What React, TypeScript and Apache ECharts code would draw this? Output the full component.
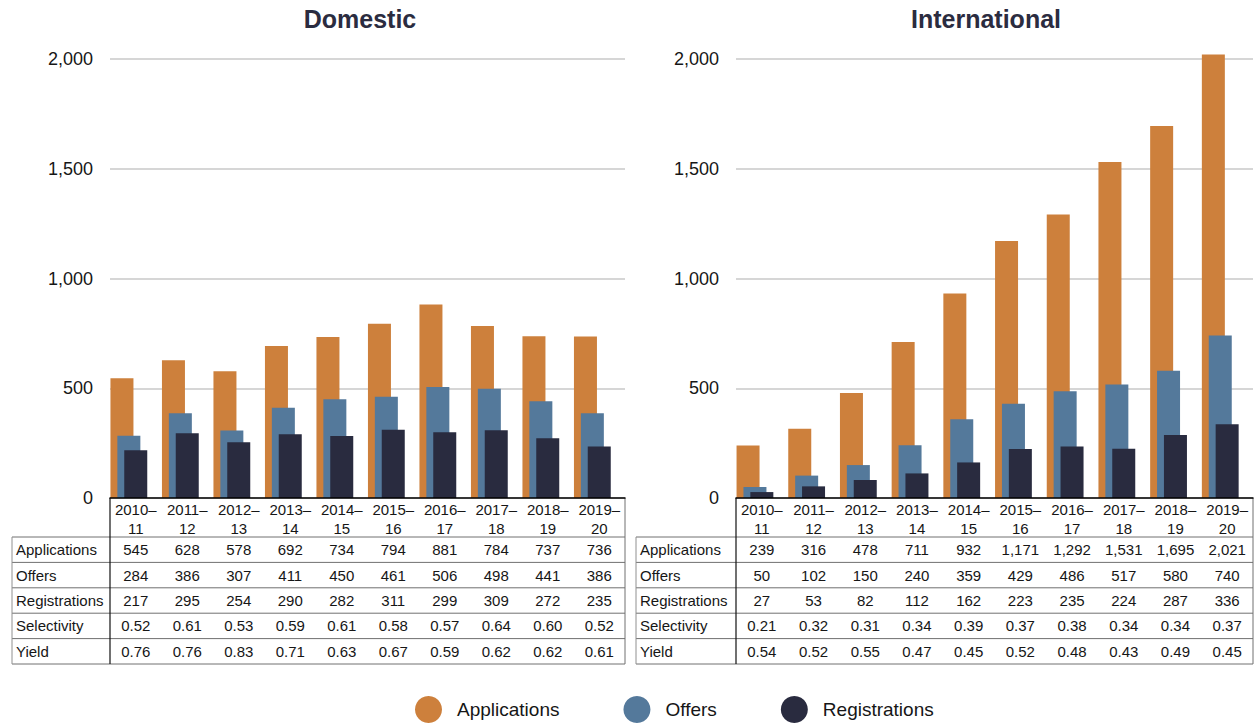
import React, { useEffect, useRef } from "react";
import * as echarts from "echarts";

const categories = ["2010–11", "2011–12", "2012–13", "2013–14", "2014–15", "2015–16", "2016–17", "2017–18", "2018–19", "2019–20"];
const rowLabels = ["Applications", "Offers", "Registrations", "Selectivity", "Yield"];
const seriesNames = ["Applications", "Offers", "Registrations"];
const yTicks = { min: 0, max: 2000, interval: 500 };

const domApplications = [545, 628, 578, 692, 734, 794, 881, 784, 737, 736];
const domOffers = [284, 386, 307, 411, 450, 461, 506, 498, 441, 386];
const domRegistrations = [217, 295, 254, 290, 282, 311, 299, 309, 272, 235];
const domSelectivity = [0.52, 0.61, 0.53, 0.59, 0.61, 0.58, 0.57, 0.64, 0.6, 0.52];
const domYield = [0.76, 0.76, 0.83, 0.71, 0.63, 0.67, 0.59, 0.62, 0.62, 0.61];

const intApplications = [239, 316, 478, 711, 932, 1171, 1292, 1531, 1695, 2021];
const intOffers = [50, 102, 150, 240, 359, 429, 486, 517, 580, 740];
const intRegistrations = [27, 53, 82, 112, 162, 223, 235, 224, 287, 336];
const intSelectivity = [0.21, 0.32, 0.31, 0.34, 0.39, 0.37, 0.38, 0.34, 0.34, 0.37];
const intYield = [0.54, 0.52, 0.55, 0.47, 0.45, 0.52, 0.48, 0.43, 0.49, 0.45];

const COLORS = ["#CD803C", "#54799B", "#292B3F"];
const FONT = "'Liberation Sans', Arial, Helvetica, sans-serif";
const TEXT = "#161616";

const panels = [
  { title: "Domestic", titleX: 360, labelX0: 12, plotX0: 110, plotX1: 625,
    bars: [domApplications, domOffers, domRegistrations],
    rows: [domApplications, domOffers, domRegistrations, domSelectivity, domYield] },
  { title: "International", titleX: 986, labelX0: 636, plotX0: 736, plotX1: 1253,
    bars: [intApplications, intOffers, intRegistrations],
    rows: [intApplications, intOffers, intRegistrations, intSelectivity, intYield] },
];

const fmtInt = (v: number) => v.toLocaleString("en-US");
const fmtDec = (v: number) => v.toFixed(2);

export default function App() {
  const ref = useRef<HTMLDivElement>(null);
  useEffect(() => {
    document.body.style.margin = "0";
    const chart = echarts.init(ref.current!, null, { renderer: "svg" });
    const grid: any[] = [];
    const xAxis: any[] = [];
    const yAxis: any[] = [];
    const series: any[] = [];
    panels.forEach((p, k) => {
      grid.push({ left: p.plotX0, top: 59, width: p.plotX1 - p.plotX0, height: 439, containLabel: false });
      xAxis.push({
        type: "category", gridIndex: k, data: categories,
        axisLine: { lineStyle: { color: "#000", width: 1.5 } },
        axisTick: { show: false },
        axisLabel: {
          interval: 0, margin: 2, fontSize: 15, lineHeight: 19, color: TEXT, fontFamily: FONT,
          formatter: (v: string) => v.replace("–", "–\n"),
        },
        z: 5,
      });
      yAxis.push({
        type: "value", gridIndex: k, min: yTicks.min, max: yTicks.max, interval: yTicks.interval,
        axisLine: { show: false }, axisTick: { show: false },
        splitLine: { lineStyle: { color: "#c9c9c9", width: 1.5 } },
        axisLabel: { margin: 17, fontSize: 18, color: TEXT, fontFamily: FONT, formatter: (v: number) => fmtInt(v) },
      });
      p.bars.forEach((d, i) => {
        series.push({
          type: "bar", name: seriesNames[i], xAxisIndex: k, yAxisIndex: k, data: d, clip: false,
          barWidth: 23, barGap: "-70%", itemStyle: { color: COLORS[i] }, z: 2 + i,
        });
      });
      for (let j = 0; j < 2; j++) {
        series.push({ type: "bar", name: "_pad" + j, xAxisIndex: k, yAxisIndex: k, data: [], barWidth: 23, barGap: "-70%", silent: true });
      }
    });

    chart.setOption({
      animation: false,
      textStyle: { fontFamily: FONT },
      legend: {
        data: seriesNames, left: 410, top: 691, itemWidth: 27, itemHeight: 27, itemGap: 64, icon: "circle",
        textStyle: { fontSize: 19, color: TEXT, fontFamily: FONT, padding: [0, 0, 0, 10] },
        selectedMode: false,
      },
      grid, xAxis, yAxis, series,
    });

    const graphic: any[] = [];
    const rowTop = (i: number) => 537 + i * 25.4;
    panels.forEach((p, k) => {
      graphic.push({
        type: "text", x: p.titleX, y: 19,
        style: { text: p.title, fontSize: 25, fontWeight: "bold", fill: "#2B2C40", fontFamily: FONT, textAlign: "center", textVerticalAlign: "middle" },
      });
      for (let i = 0; i <= 5; i++) {
        graphic.push({ type: "line", shape: { x1: p.labelX0, y1: rowTop(i), x2: p.plotX1, y2: rowTop(i) }, style: { stroke: "#707070", lineWidth: 1 } });
      }
      graphic.push({ type: "line", shape: { x1: p.labelX0, y1: rowTop(0), x2: p.labelX0, y2: rowTop(5) }, style: { stroke: "#909090", lineWidth: 1 } });
      graphic.push({ type: "line", shape: { x1: p.plotX1, y1: 498, x2: p.plotX1, y2: rowTop(5) }, style: { stroke: "#707070", lineWidth: 1 } });
      graphic.push({ type: "line", shape: { x1: p.plotX0, y1: 498, x2: p.plotX0, y2: rowTop(5) }, style: { stroke: "#111", lineWidth: 1.2 } });
      rowLabels.forEach((lab, r) => {
        const cy = (rowTop(r) + rowTop(r + 1)) / 2;
        graphic.push({ type: "text", x: p.labelX0 + 4, y: cy, style: { text: lab, fontSize: 15, fill: TEXT, fontFamily: FONT, textVerticalAlign: "middle" } });
        p.rows[r].forEach((v, c) => {
          const px = chart.convertToPixel({ xAxisIndex: k }, c) as number;
          graphic.push({
            type: "text", x: px, y: cy,
            style: { text: r < 3 ? fmtInt(v) : fmtDec(v), fontSize: 15, fill: TEXT, fontFamily: FONT, textAlign: "center", textVerticalAlign: "middle" },
          });
        });
      });
    });
    chart.setOption({ graphic });
    return () => chart.dispose();
  }, []);
  return <div ref={ref} style={{ width: 1254, height: 723 }} />;
}
